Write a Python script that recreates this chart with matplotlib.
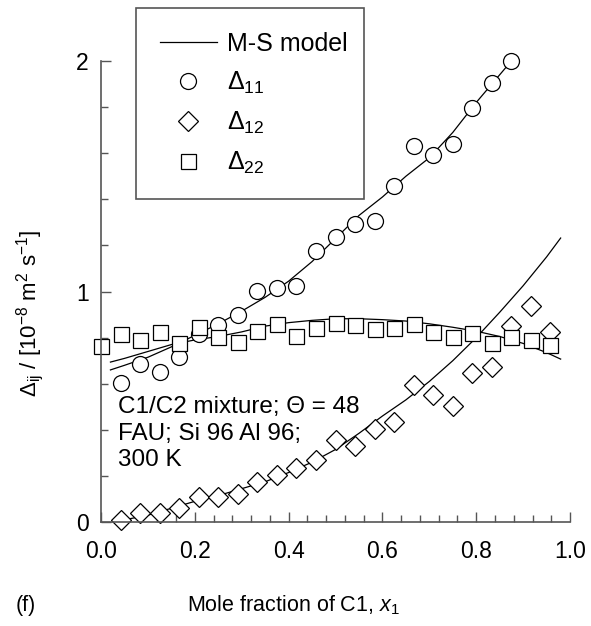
import numpy as np
import matplotlib
matplotlib.use("Agg")
import matplotlib.pyplot as plt
from matplotlib.ticker import MultipleLocator

plt.rcParams['font.family'] = ['Liberation Sans', 'DejaVu Sans']
plt.rcParams['mathtext.fontset'] = 'custom'
plt.rcParams['mathtext.rm'] = 'Liberation Sans'
plt.rcParams['mathtext.it'] = 'Liberation Sans:italic'

# simulation points, x = k/24
x11 = np.arange(1, 22) / 24
d11 = [0.603, 0.686, 0.65, 0.716, 0.816, 0.855, 0.898, 1.002, 1.015, 1.024, 1.176,
       1.236, 1.293, 1.306, 1.458, 1.631, 1.592, 1.64, 1.796, 1.905, 2.0]

x12 = np.arange(1, 24) / 24
d12 = [0.01, 0.039, 0.039, 0.061, 0.108, 0.108, 0.121, 0.174, 0.205, 0.234, 0.27,
       0.358, 0.332, 0.405, 0.435, 0.595, 0.55, 0.503, 0.646, 0.672, 0.85, 0.937, 0.825]

x22 = np.arange(0, 24) / 24
d22 = [0.764, 0.816, 0.79, 0.824, 0.777, 0.846, 0.803, 0.781, 0.829, 0.859, 0.807, 0.842,
       0.863, 0.855, 0.837, 0.842, 0.859, 0.824, 0.803, 0.820, 0.777, 0.803, 0.79, 0.768]

# M-S model curves
m11_x = [0.02, 0.05, 0.10, 0.15, 0.20, 0.25, 0.30, 0.35, 0.40, 0.45, 0.50, 0.55, 0.60,
         0.65, 0.70, 0.75, 0.80, 0.85, 0.875]
m11_y = [0.66, 0.68, 0.715, 0.76, 0.81, 0.86, 0.915, 0.975, 1.045, 1.13, 1.23, 1.33, 1.41,
         1.50, 1.58, 1.69, 1.82, 1.94, 2.0]

m12_x = [0.03, 0.05, 0.10, 0.15, 0.20, 0.25, 0.30, 0.35, 0.40, 0.45, 0.50, 0.55, 0.60,
         0.65, 0.70, 0.75, 0.80, 0.85, 0.90, 0.95, 0.98]
m12_y = [0.0, 0.01, 0.03, 0.06, 0.09, 0.115, 0.145, 0.175, 0.215, 0.26, 0.315, 0.385, 0.46,
         0.53, 0.61, 0.70, 0.80, 0.91, 1.025, 1.15, 1.232]

m22_x = [0.02, 0.05, 0.10, 0.15, 0.20, 0.25, 0.30, 0.35, 0.40, 0.45, 0.50, 0.55, 0.60,
         0.65, 0.70, 0.75, 0.80, 0.85, 0.90, 0.95, 0.98]
m22_y = [0.694, 0.71, 0.74, 0.77, 0.79, 0.805, 0.825, 0.85, 0.865, 0.875, 0.882, 0.882, 0.878,
         0.872, 0.86, 0.845, 0.828, 0.805, 0.775, 0.735, 0.707]

spine_col = '#555555'

fig = plt.figure(figsize=(5.91, 6.26), dpi=100)
ax = fig.add_axes([0.171, 0.166, 0.7935, 0.7366])

line, = ax.plot(m11_x, m11_y, color='k', lw=0.9, label='M-S model')
ax.plot(m12_x, m12_y, color='k', lw=0.9)
ax.plot(m22_x, m22_y, color='k', lw=0.9)

mk = dict(linestyle='none', mfc='white', mec='k', mew=0.9, clip_on=False)
h11, = ax.plot(x11, d11, marker='o', ms=11.5, label=r'$\Delta_{11}$', **mk)
h12, = ax.plot(x12, d12, marker='D', ms=10, label=r'$\Delta_{12}$', **mk)
h22, = ax.plot(x22, d22, marker='s', ms=10.8, label=r'$\Delta_{22}$', **mk)

ax.set_xlim(0, 1.0)
ax.set_ylim(0, 2)
ax.xaxis.set_major_locator(MultipleLocator(0.2))
ax.xaxis.set_minor_locator(MultipleLocator(0.04))
ax.yaxis.set_major_locator(MultipleLocator(1))
ax.yaxis.set_minor_locator(MultipleLocator(0.2))
ax.xaxis.set_major_formatter(plt.FuncFormatter(lambda v, p: '%.1f' % v))
ax.yaxis.set_major_formatter(plt.FuncFormatter(lambda v, p: '%d' % round(v)))

for s in ['top', 'right']:
    ax.spines[s].set_visible(False)
for s in ['left', 'bottom']:
    ax.spines[s].set_color(spine_col)
    ax.spines[s].set_linewidth(1.2)

ax.tick_params(which='both', direction='in', color=spine_col, width=1.0, labelsize=16.5)
ax.tick_params(which='major', length=7.2)
ax.tick_params(which='minor', length=5)
ax.tick_params(axis='x', which='major', pad=13)
ax.tick_params(axis='y', which='major', pad=9)

ax.text(0.036, 0.545, 'C1/C2 mixture; \u0398 = 48\nFAU; Si 96 Al 96;\n300 K',
        fontsize=17.5, va='top', ha='left', linespacing=1.26)

fig.text(0.05, 0.5, r'$\Delta_{\mathrm{ij}}$ / [10$^{-8}$ m$^{2}$ s$^{-1}$]',
         rotation=90, fontsize=16, ha='center', va='center')
fig.text(0.497, 0.033, r'Mole fraction of C1, $\it{x}_{\mathrm{1}}$', fontsize=15.5,
         ha='center', va='center')
fig.text(0.043, 0.033, '(f)', fontsize=15.5, ha='center', va='center')

leg = ax.legend(handles=[line, h11, h12, h22], loc='upper left',
                bbox_to_anchor=(0.230, 0.677, 0.386, 0.310),
                bbox_transform=fig.transFigure, mode='expand',
                fontsize=18, frameon=True, fancybox=False, framealpha=1,
                borderpad=0.95, labelspacing=0.55, handlelength=2.3,
                handletextpad=0.4, borderaxespad=0)
leg.get_frame().set_edgecolor(spine_col)
leg.get_frame().set_linewidth(1.2)

fig.savefig('out.png', dpi=100)
